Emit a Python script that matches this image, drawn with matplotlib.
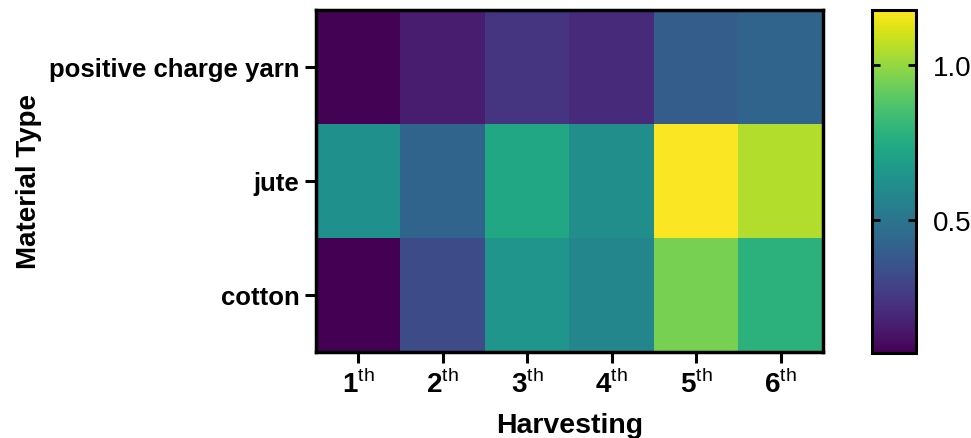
import numpy as np
import matplotlib
matplotlib.use("Agg")
import matplotlib.pyplot as plt

plt.rcParams['font.family'] = ['Liberation Sans', 'DejaVu Sans']
plt.rcParams['mathtext.fontset'] = 'custom'
plt.rcParams['mathtext.rm'] = 'Liberation Sans'
plt.rcParams['mathtext.bf'] = 'Liberation Sans:bold'

materials = ["positive charge yarn", "jute", "cotton"]
harvests = ["1", "2", "3", "4", "5", "6"]
yarn = [0.08, 0.16, 0.24, 0.21, 0.40, 0.43]
jute = [0.625, 0.43, 0.73, 0.62, 1.17, 1.05]
cotton = [0.075, 0.33, 0.65, 0.58, 0.95, 0.78]
vmin, vmax = 0.075, 1.175

data = np.array([yarn, jute, cotton])

fig = plt.figure(figsize=(9.71, 4.39), dpi=100)
ax = fig.add_axes([316/971, 1 - 353/439, 507/971, 342/439])
cax = fig.add_axes([872/971, 1 - 354/439, 44/971, 343/439])

im = ax.imshow(data, cmap='viridis', vmin=vmin, vmax=vmax, aspect='auto')

ax.set_xticks(range(len(harvests)))
ax.set_xticklabels([r"$\mathbf{%s}^{\mathrm{th}}$" % h for h in harvests], fontsize=20)
ax.set_yticks(range(len(materials)))
ax.set_yticklabels(materials, fontsize=18.5, fontweight='bold')
ax.set_xlabel("Harvesting", fontsize=20.5, fontweight='bold', labelpad=10)
ax.set_ylabel("Material Type", fontsize=20, fontweight='bold', labelpad=5)
ax.tick_params(axis='both', length=8, width=2.2, pad=4)
for s in ax.spines.values():
    s.set_linewidth(2.5)

cb = fig.colorbar(im, cax=cax)
cb.set_ticks([0.5, 1.0])
cb.ax.tick_params(labelsize=20, direction='in', length=6, width=2, left=True, right=True, pad=12)
cb.outline.set_linewidth(2.2)

fig.savefig("out.png", dpi=100)
